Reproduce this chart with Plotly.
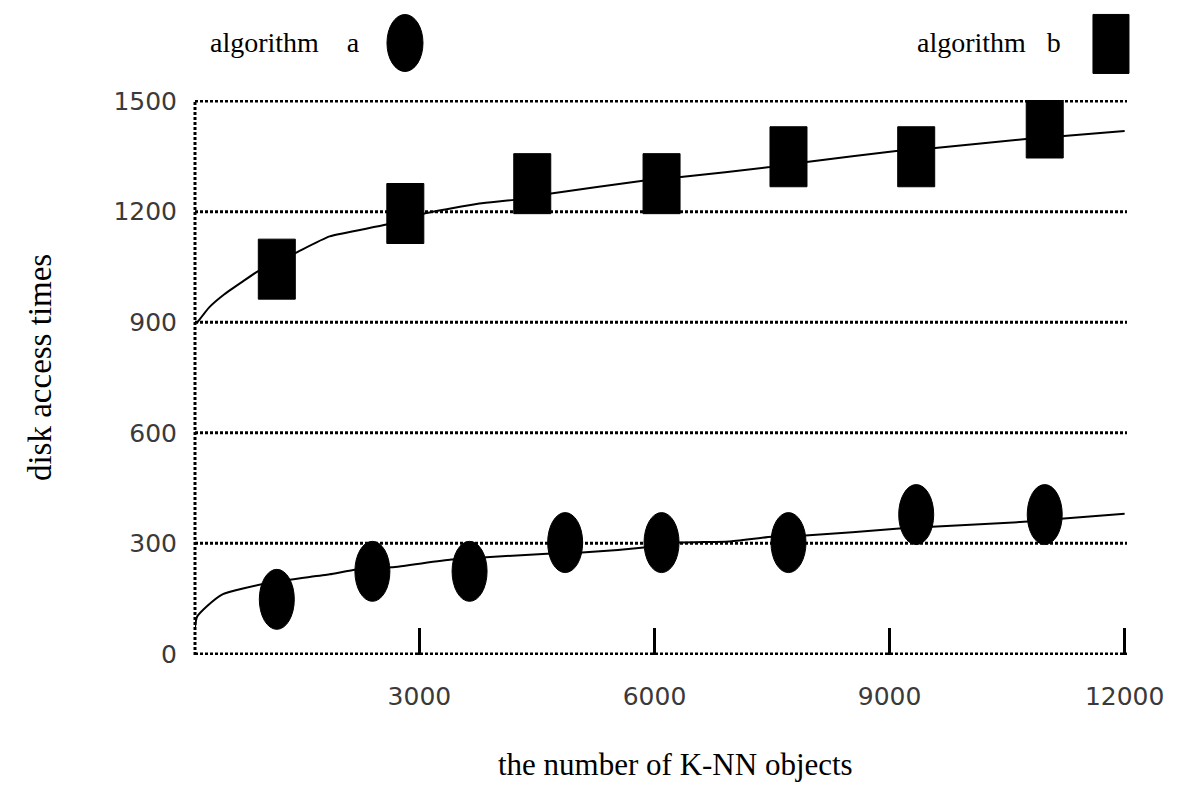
import plotly.graph_objects as go

# ---- data ----
a_x = [1180, 2400, 3640, 4860, 6090, 7710, 9340, 10980]
a_y = [148, 224, 224, 302, 302, 302, 378, 378]

b_x = [1180, 2820, 4440, 6090, 7710, 9340, 10980]
b_y = [1044, 1195, 1276, 1276, 1349, 1349, 1427]

fit_a_x = [136, 161, 288, 492, 989, 1370, 1854, 2198, 2644, 3407, 3853, 4630,
           5075, 5865, 6310, 6946, 7494, 7926, 9123, 9543, 10765, 11185, 12000]
fit_a_y = [73, 100, 129, 162, 189, 202, 216, 229, 235, 256, 262, 272,
           275, 289, 302, 305, 318, 321, 340, 345, 359, 367, 380]

fit_b_x = [161, 320, 511, 747, 938, 1409, 1854, 2580, 3064, 3764, 4210, 4680,
           5852, 6336, 7469, 7940, 9111, 9582, 10740, 11224, 12000]
fit_b_y = [898, 941, 976, 1011, 1038, 1087, 1133, 1165, 1195, 1222, 1232, 1249,
           1284, 1294, 1321, 1335, 1365, 1373, 1397, 1405, 1419]

x_ticks = [3000, 6000, 9000, 12000]
y_ticks = [0, 300, 600, 900, 1200, 1500]

fig = go.Figure()

fig.add_trace(go.Scatter(x=fit_a_x, y=fit_a_y, mode="lines",
                         line=dict(color="black", width=2, shape="spline", smoothing=0.5),
                         showlegend=False, hoverinfo="skip"))
fig.add_trace(go.Scatter(x=fit_b_x, y=fit_b_y, mode="lines",
                         line=dict(color="black", width=2, shape="spline", smoothing=0.5),
                         showlegend=False, hoverinfo="skip"))
fig.add_trace(go.Scatter(x=a_x, y=a_y, mode="markers", name="algorithm a",
                         marker=dict(symbol="circle", size=30, color="black"),
                         showlegend=False))
fig.add_trace(go.Scatter(x=b_x, y=b_y, mode="markers", name="algorithm b",
                         marker=dict(symbol="square", size=30, color="black"),
                         showlegend=False))

shapes = []
# horizontal dotted grid lines at the y tick values
for yv in y_ticks:
    shapes.append(dict(type="line", xref="paper", yref="y", x0=0, x1=1, y0=yv, y1=yv,
                       line=dict(color="black", width=3, dash="3px,2px"), layer="below"))
# elongated markers anchored at data points
for xv, yv in zip(a_x, a_y):
    shapes.append(dict(type="circle", xref="x", yref="y", xsizemode="pixel", ysizemode="pixel",
                       xanchor=xv, yanchor=yv, x0=-17.5, x1=17.5, y0=-30, y1=30,
                       fillcolor="black", line=dict(color="black", width=1), layer="above"))
for xv, yv in zip(b_x, b_y):
    shapes.append(dict(type="rect", xref="x", yref="y", xsizemode="pixel", ysizemode="pixel",
                       xanchor=xv, yanchor=yv, x0=-18.5, x1=18.5, y0=-30, y1=30,
                       fillcolor="black", line=dict(color="black", width=1), layer="above"))
# left axis line (dotted)
shapes.append(dict(type="line", xref="paper", yref="paper", x0=0, x1=0, y0=0, y1=1,
                   line=dict(color="black", width=3, dash="3px,2px")))
# legend symbols
shapes.append(dict(type="circle", xref="paper", yref="paper", xsizemode="pixel", ysizemode="pixel",
                   xanchor=0.2253, yanchor=1.1027, x0=-18, x1=18, y0=-28.5, y1=28.5,
                   fillcolor="black", line=dict(color="black", width=1)))
shapes.append(dict(type="rect", xref="paper", yref="paper", xsizemode="pixel", ysizemode="pixel",
                   xanchor=0.9828, yanchor=1.101, x0=-18, x1=18, y0=-29.5, y1=29.5,
                   fillcolor="black", line=dict(color="black", width=1)))

serif = "Liberation Serif"
annotations = [
    dict(text="algorithm&nbsp;&nbsp;&nbsp;&nbsp;a", xref="paper", yref="paper",
         x=0.0139, y=1.1045, xanchor="left", yanchor="middle", showarrow=False,
         font=dict(family=serif, size=28, color="black")),
    dict(text="algorithm&nbsp;&nbsp;&nbsp;b", xref="paper", yref="paper",
         x=0.7725, y=1.1045, xanchor="left", yanchor="middle", showarrow=False,
         font=dict(family=serif, size=28, color="black")),
    dict(text="the number of K-NN objects", xref="paper", yref="paper",
         x=0.516, y=-0.198, xanchor="center", yanchor="middle", showarrow=False,
         font=dict(family=serif, size=31, color="black")),
    dict(text="disk access times", xref="paper", yref="paper", textangle=-90,
         x=-0.1663, y=0.517, xanchor="center", yanchor="middle", showarrow=False,
         font=dict(family=serif, size=33, color="black")),
]

fig.update_layout(
    width=1200, height=800,
    # page body adds an 8px offset; margins compensate so the plot lands at 195..1127 x 100..655
    margin=dict(l=187, r=81, t=92, b=153, autoexpand=False),
    paper_bgcolor="white", plot_bgcolor="white",
    shapes=shapes, annotations=annotations,
    xaxis=dict(range=[136, 12030], tickvals=x_ticks, ticktext=[str(v) for v in x_ticks],
               ticks="inside", ticklen=27, tickwidth=3, tickcolor="black",
               showgrid=False, zeroline=False, showline=False, automargin=False,
               ticklabelstandoff=24,
               tickfont=dict(family="DejaVu Sans", size=25, color="#3a3a3a")),
    yaxis=dict(range=[-3, 1503], tickvals=y_ticks, ticktext=[str(v) for v in y_ticks],
               showgrid=False, zeroline=False, showline=False, ticks="", automargin=False,
               ticklabelstandoff=17,
               tickfont=dict(family="DejaVu Sans", size=25, color="#3a3a3a")),
)

fig.write_html("out.html")
